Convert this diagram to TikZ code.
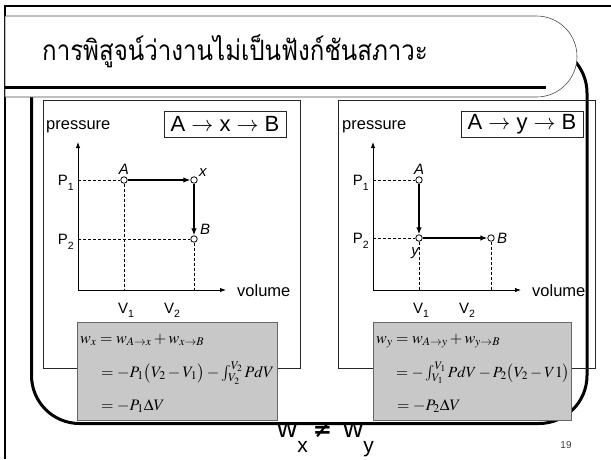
\documentclass[tikz,border=0pt]{standalone}
\usepackage{mathptmx}
\usepackage{fontspec}
\setmainfont{Liberation Sans}
\newfontfamily\thaifont[Script=Thai]{Loma}
\newfontfamily\symfont{DejaVu Sans}
\usetikzlibrary{arrows.meta}
\definecolor{boxgray}{RGB}{200,200,200}
\newcommand\lowsub[1]{\raisebox{-0.33em}{\fontsize{10.5}{10.5}\selectfont #1}}
\newcommand\bigsub[1]{\raisebox{-15pt}{\fontsize{21}{21}\selectfont #1}}
\tikzset{
  bigframe/.style={line width=3pt},
  panelbox/.style={draw=black!85, line width=0.8pt, inner sep=0pt, anchor=north west, minimum width=257pt, minimum height=268pt},
  labelbox/.style={draw=black!85, line width=0.8pt, inner sep=0pt, minimum width=122pt, minimum height=26pt, font=\fontsize{22}{22}\selectfont},
  axisline/.style={line width=0.9pt, -{Latex[length=6pt,width=4.5pt]}},
  guideline/.style={line width=0.6pt, dash pattern=on 3pt off 2pt},
  patharrow/.style={line width=1.8pt, -{Latex[length=7pt,width=5.5pt]}},
  dot/.style={circle, draw, fill=white, inner sep=0pt, minimum size=6.5pt, line width=0.8pt},
  lbl/.style={inner sep=0pt, font=\fontsize{15}{15}\selectfont},
  axlbl/.style={inner sep=0pt, font=\fontsize{16.5}{16.5}\selectfont},
  ptlbl/.style={inner sep=0pt, font=\fontsize{15}{15}\selectfont\itshape},
  eqbox/.style={draw=black!60, fill=boxgray, line width=0.6pt, inner sep=0pt, anchor=north west, minimum width=200pt, minimum height=98pt},
  eqline/.style={inner sep=0pt, anchor=base west, font=\fontsize{16}{16}\selectfont}
}
\begin{document}
\begin{tikzpicture}[x=1pt,y=-1pt]
\useasboundingbox (0,0) rectangle (611,459);
% slide border
\draw[line width=2.5pt] (5,459) -- (5,6) -- (611,6);
% big rounded frame
\draw[bigframe, rounded corners=48pt] (31.5,45) rectangle (587,423.5);
% title box
\draw[fill=white, draw=black!70, line width=0.6pt] (5,16) -- (536.5,16) arc[start angle=90, end angle=-90, radius=40.5pt] -- (5,97) -- cycle;
\draw[line width=3pt] (5,87) -- (546,87);
\node[anchor=west, inner sep=0pt, font=\thaifont\fontsize{28}{28}\selectfont] (title) at (42,51) {\scalebox{0.86}[1]{การพิสูจน์ว่างานไม่เป็นฟังก์ชันสภาวะ}};

% ---------- left panel ----------
\node[panelbox] (panelL) at (43,100) {};
\node[labelbox] (boxL) at (225,124) {A $\rightarrow$ x $\rightarrow$ B};
\node[axlbl, anchor=base west] (presL) at (46,129) {pressure};
\coordinate (OL) at (78,290);
\coordinate (YL) at (78,142);
\coordinate (XL) at (226,290);
\draw[axisline] (OL) -- (YL);
\draw[axisline] (OL) -- (XL);
\node[axlbl, anchor=base west] (volL) at (237,296) {volume};
\node[dot] (AL) at (124,180) {};
\node[dot] (XpL) at (194,180) {};
\node[dot] (BL) at (194,239) {};
\draw[guideline] (OL |- AL) -- (AL);
\draw[guideline] (AL) -- (AL |- OL);
\draw[guideline] (OL |- BL) -- (BL);
\draw[guideline] (BL) -- (BL |- OL);
\draw[patharrow] (AL) -- (XpL);
\draw[patharrow] (XpL) -- (BL);
\node[lbl, anchor=base east] (P1L) at (74,185.5) {P\lowsub{1}};
\node[lbl, anchor=base east] (P2L) at (74,244.5) {P\lowsub{2}};
\node[lbl, anchor=base west] (V1L) at (118,313) {V\lowsub{1}};
\node[lbl, anchor=base west] (V2L) at (164,313) {V\lowsub{2}};
\node[ptlbl, anchor=base] (AlabL) at (124,174) {A};
\node[ptlbl, anchor=base west] (XlabL) at (199,176) {x};
\node[ptlbl, anchor=base west] (BlabL) at (200,234) {B};
\node[eqbox] (eqL) at (77,322) {};
\node[eqline] (eqL1) at (80,343) {$w_x = w_{A\rightarrow x} + w_{x\rightarrow B}$};
\node[eqline] (eqL2) at (101,377) {$= -P_1\bigl(V_2 - V_1\bigr) - \int_{V_2}^{V_2} PdV$};
\node[eqline] (eqL3) at (101,410) {$= -P_1\Delta V$};

% ---------- right panel ----------
\node[panelbox] (panelR) at (338,100) {};
\node[labelbox] (boxR) at (522,124) {A $\rightarrow$ y $\rightarrow$ B};
\node[axlbl, anchor=base west] (presR) at (342,129) {pressure};
\coordinate (OR) at (373,290);
\coordinate (YR) at (373,142);
\coordinate (XR) at (521,290);
\draw[axisline] (OR) -- (YR);
\draw[axisline] (OR) -- (XR);
\node[axlbl, anchor=base west] (volR) at (532,296) {volume};
\node[dot] (AR) at (419,180) {};
\node[dot] (YpR) at (419,238) {};
\node[dot] (BR) at (491,238) {};
\draw[guideline] (OR |- AR) -- (AR);
\draw[guideline] (OR |- YpR) -- (YpR);
\draw[guideline] (YpR) -- (YpR |- OR);
\draw[guideline] (BR) -- (BR |- OR);
\draw[patharrow] (AR) -- (YpR);
\draw[patharrow] (YpR) -- (BR);
\node[lbl, anchor=base east] (P1R) at (369,185.5) {P\lowsub{1}};
\node[lbl, anchor=base east] (P2R) at (369,243.5) {P\lowsub{2}};
\node[lbl, anchor=base west] (V1R) at (413,313) {V\lowsub{1}};
\node[lbl, anchor=base west] (V2R) at (459,313) {V\lowsub{2}};
\node[ptlbl, anchor=base] (AlabR) at (419,174) {A};
\node[ptlbl, anchor=base] (YlabR) at (415,255) {y};
\node[ptlbl, anchor=base west] (BlabR) at (497,243) {B};
\node[eqbox, minimum width=198pt] (eqR) at (373,322) {};
\node[eqline] (eqR1) at (376,343) {$w_y = w_{A\rightarrow y} + w_{y\rightarrow B}$};
\node[eqline, font=\fontsize{15.5}{15.5}\selectfont] (eqR2) at (396,377) {$= -\int_{V_1}^{V_1} PdV - P_2\bigl(V_2 - V1\bigr)$};
\node[eqline] (eqR3) at (397,410) {$= -P_2\Delta V$};

% ---------- bottom ----------
\node[inner sep=0pt, anchor=base west, font=\fontsize{28}{28}\selectfont] (neq) at (277,437) {w\bigsub{x}\hspace{5pt}{\symfont\bfseries\fontsize{23}{23}\selectfont ≠}\hspace{11pt}w\bigsub{y}};
\node[inner sep=0pt, font=\fontsize{10}{10}\selectfont, text=black!75] (pagenum) at (566,445) {19};
\end{tikzpicture}
\end{document}
